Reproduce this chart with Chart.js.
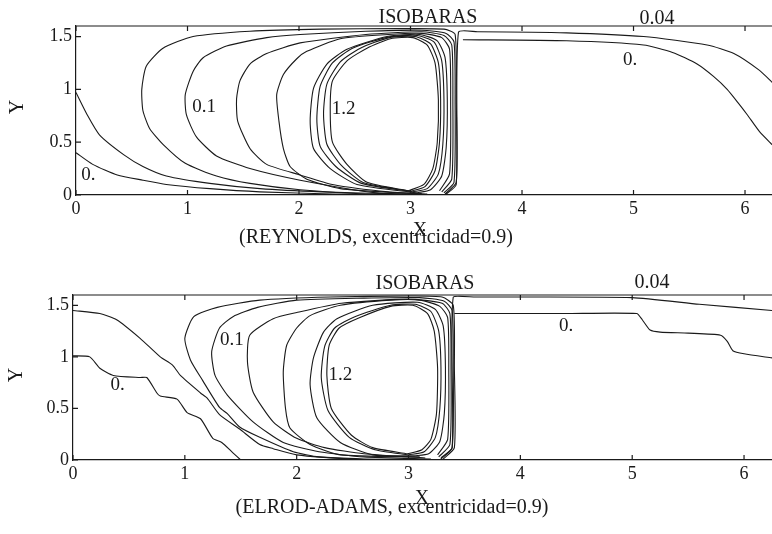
<!DOCTYPE html>
<html>
<head>
<meta charset="utf-8">
<script src="https://cdn.jsdelivr.net/npm/chart.js@4.4.0/dist/chart.umd.min.js"></script>
<style>
  body { margin: 0; background: #fff; overflow: hidden; }
  .box { position: absolute; left: 0; width: 772px; height: 267px; }
</style>
</head>
<body>
<div class="box" style="top:0"><canvas id="reynoldsChart"></canvas></div>
<div class="box" style="top:267px"><canvas id="elrodChart"></canvas></div>
<script>
// axis ticks
const xTicks = [0, 1, 2, 3, 4, 5, 6];
const yTicks = [0, 0.5, 1, 1.5];

// REYNOLDS isobars, [x, y] points
const reyZeroLow = [[0,0.40],[0.15,0.29],[0.37,0.19],[0.6,0.14],[0.81,0.10],[1.2,0.06],[1.65,0.03],[2.3,0.01],[3.0,0.0]];
const reyZeroHigh = [[0,0.97],[0.1,0.76],[0.21,0.57],[0.43,0.38],[0.6,0.27],[0.81,0.18],[1.2,0.11],[1.65,0.06],[2.2,0.03],[2.9,0.01]];
const reyLoop1 = [[3.22,0.0],[2.6,0.01],[2.01,0.05],[1.56,0.11],[1.26,0.18],[0.98,0.30],[0.78,0.48],[0.66,0.63],[0.60,0.80],[0.59,1.0],[0.63,1.22],[0.78,1.39],[1.05,1.50],[1.56,1.55],[2.2,1.57],[2.9,1.575],[3.3,1.57],[3.4,1.52],[3.41,0.9],[3.41,0.12],[3.31,0.01]];
const reyLoop2 = [[3.2,0.005],[2.7,0.02],[2.01,0.14],[1.56,0.25],[1.26,0.37],[1.08,0.55],[0.99,0.76],[0.98,0.95],[1.05,1.17],[1.14,1.30],[1.35,1.41],[1.71,1.49],[2.01,1.52],[2.6,1.55],[3.1,1.56],[3.32,1.53],[3.39,1.45],[3.40,0.9],[3.39,0.12],[3.3,0.02]];
const reyLoop3 = [[3.15,0.01],[2.8,0.03],[2.3,0.1],[2.01,0.19],[1.71,0.29],[1.56,0.44],[1.45,0.70],[1.44,0.91],[1.47,1.08],[1.56,1.24],[1.71,1.34],[2.01,1.44],[2.6,1.52],[3.1,1.545],[3.3,1.51],[3.37,1.42],[3.38,0.9],[3.37,0.15],[3.28,0.03]];
const reyLoop4 = [[3.1,0.015],[2.9,0.02],[2.37,0.06],[2.07,0.15],[1.92,0.27],[1.86,0.44],[1.82,0.70],[1.80,0.95],[1.86,1.14],[1.98,1.29],[2.07,1.36],[2.37,1.48],[2.8,1.52],[3.1,1.53],[3.28,1.49],[3.35,1.38],[3.36,0.9],[3.35,0.2],[3.26,0.04]];
const reyLoop5 = [[3.05,0.02],[2.52,0.10],[2.28,0.25],[2.13,0.44],[2.10,0.70],[2.13,1.01],[2.25,1.24],[2.43,1.38],[2.79,1.50],[3.08,1.52],[3.24,1.46],[3.31,1.30],[3.33,0.9],[3.32,0.45],[3.28,0.18],[3.18,0.05],[3.05,0.02]];
const reyLoop6 = [[3.02,0.03],[2.56,0.11],[2.33,0.27],[2.19,0.46],[2.16,0.72],[2.19,1.03],[2.30,1.25],[2.48,1.39],[2.80,1.495],[3.06,1.51],[3.21,1.45],[3.28,1.27],[3.30,0.9],[3.29,0.48],[3.25,0.2],[3.15,0.06],[3.02,0.03]];
const reyLoop7 = [[3.0,0.035],[2.58,0.115],[2.38,0.28],[2.25,0.48],[2.22,0.77],[2.25,1.05],[2.37,1.26],[2.55,1.39],[2.81,1.49],[3.04,1.50],[3.18,1.43],[3.25,1.25],[3.27,0.9],[3.26,0.5],[3.22,0.23],[3.13,0.08],[3.0,0.035]];
const reyLoop8 = [[2.98,0.04],[2.61,0.12],[2.43,0.29],[2.30,0.50],[2.28,0.82],[2.30,1.08],[2.43,1.27],[2.61,1.39],[2.82,1.48],[3.02,1.49],[3.15,1.42],[3.22,1.25],[3.25,0.9],[3.24,0.5],[3.2,0.25],[3.12,0.1],[2.98,0.04]];
const reyWall = [[3.31,0.0],[3.41,0.1],[3.43,1.54],[3.6,1.545],[4.4,1.535],[5.09,1.50],[5.66,1.42],[5.9,1.34],[6.13,1.18],[6.25,1.06]];
const reyZeroRight = [[3.47,1.47],[4.4,1.46],[5.09,1.42],[5.35,1.35],[5.57,1.24],[5.72,1.12],[5.84,1.0],[5.94,0.87],[6.02,0.76],[6.13,0.6],[6.25,0.47]];
const reyLabels = [[0.11,0.19,'0.'],[1.15,0.83,'0.1'],[2.4,0.81,'1.2'],[4.97,1.28,'0.']];

// ELROD-ADAMS isobars
const elaZeroLow = [[0,1.01],[0.15,1.0],[0.24,0.89],[0.36,0.82],[0.6,0.80],[0.66,0.80],[0.75,0.65],[0.78,0.62],[0.93,0.59],[1.02,0.46],[1.14,0.40],[1.25,0.21],[1.33,0.17],[1.43,0.07],[1.5,0.0]];
const elaZeroHigh = [[0,1.45],[0.24,1.42],[0.39,1.36],[0.6,1.18],[0.78,1.0],[0.89,0.92],[0.96,0.82],[1.14,0.65],[1.2,0.6],[1.31,0.44],[1.49,0.3],[1.67,0.15],[1.79,0.11],[2.0,0.05],[2.5,0.01],[3.0,0.0]];
const elaLoop1 = [[3.25,0.0],[2.6,0.01],[2.2,0.03],[1.97,0.08],[1.67,0.22],[1.49,0.32],[1.38,0.45],[1.31,0.51],[1.16,0.77],[1.05,0.97],[1.0,1.18],[1.08,1.39],[1.29,1.48],[1.67,1.55],[2.3,1.58],[3.0,1.59],[3.3,1.58],[3.4,1.5],[3.41,0.9],[3.41,0.12],[3.31,0.01]];
const elaLoop2 = [[3.2,0.01],[2.6,0.03],[2.2,0.08],[1.88,0.17],[1.61,0.37],[1.38,0.63],[1.27,0.82],[1.24,1.05],[1.31,1.28],[1.43,1.39],[1.65,1.48],[2.0,1.55],[2.6,1.57],[3.1,1.575],[3.32,1.54],[3.39,1.45],[3.40,0.9],[3.39,0.12],[3.29,0.02]];
const elaLoop3 = [[3.15,0.02],[2.6,0.06],[2.25,0.12],[2.0,0.21],[1.79,0.37],[1.61,0.66],[1.56,0.95],[1.58,1.21],[1.79,1.37],[2.0,1.43],[2.4,1.52],[3.0,1.56],[3.3,1.52],[3.37,1.42],[3.38,0.9],[3.37,0.15],[3.27,0.03]];
const elaLoop4 = [[3.1,0.03],[2.39,0.05],[2.12,0.15],[1.94,0.31],[1.90,0.5],[1.88,0.85],[1.91,1.11],[2.0,1.28],[2.12,1.40],[2.39,1.50],[2.84,1.55],[3.1,1.55],[3.28,1.49],[3.35,1.38],[3.36,0.9],[3.35,0.2],[3.26,0.05]];
const elaLoop5 = [[3.05,0.04],[2.68,0.05],[2.39,0.17],[2.18,0.41],[2.12,0.73],[2.15,0.99],[2.24,1.24],[2.36,1.37],[2.68,1.50],[3.08,1.53],[3.24,1.46],[3.31,1.30],[3.33,0.9],[3.32,0.45],[3.28,0.18],[3.18,0.06],[3.05,0.04]];
const elaLoop6 = [[3.0,0.05],[2.7,0.1],[2.47,0.22],[2.28,0.48],[2.22,0.8],[2.25,1.1],[2.34,1.28],[2.52,1.39],[2.84,1.50],[3.06,1.51],[3.2,1.44],[3.27,1.25],[3.29,0.9],[3.28,0.5],[3.24,0.22],[3.14,0.08],[3.0,0.05]];
const elaLoop7 = [[2.99,0.06],[2.68,0.12],[2.49,0.24],[2.31,0.5],[2.27,0.82],[2.29,1.11],[2.38,1.28],[2.56,1.38],[2.84,1.49],[3.04,1.50],[3.17,1.42],[3.23,1.25],[3.26,0.89],[3.25,0.45],[3.2,0.2],[3.12,0.1],[2.99,0.06]];
const elaWall = [[3.28,0.0],[3.39,0.12],[3.40,1.58],[3.6,1.58],[5.0,1.575],[5.6,1.51],[6.25,1.45]];
const elaZeroRight = [[3.41,1.42],[4.4,1.42],[5.04,1.42],[5.09,1.36],[5.16,1.26],[5.25,1.24],[5.5,1.23],[5.79,1.21],[5.85,1.15],[5.9,1.06],[6.0,1.03],[6.25,0.99]];
const elaLabels = [[0.40,0.73,'0.'],[1.42,1.16,'0.1'],[2.39,0.82,'1.2'],[4.41,1.3,'0.']];

const ink = '#1a1a1a';
const serif = '"Liberation Serif", "DejaVu Serif", serif';

// frame top, inner tick marks, contour labels and captions
const frameText = {
    id: 'frameText',
    afterDraw(chart, args, o) {
        const ctx = chart.ctx;
        const a = chart.chartArea;
        const xs = chart.scales.x, ys = chart.scales.y;
        ctx.save();
        ctx.strokeStyle = ink;
        ctx.lineWidth = 1.2;
        ctx.beginPath();
        ctx.moveTo(a.left, a.top);
        ctx.lineTo(a.right, a.top);
        xTicks.forEach(v => {
            const px = xs.getPixelForValue(v);
            ctx.moveTo(px, a.bottom); ctx.lineTo(px, a.bottom - 5);
            ctx.moveTo(px, a.top); ctx.lineTo(px, a.top + 5);
        });
        yTicks.forEach(v => {
            const py = ys.getPixelForValue(v);
            ctx.moveTo(a.left, py); ctx.lineTo(a.left + 5, py);
        });
        ctx.stroke();

        ctx.fillStyle = ink;
        ctx.textAlign = 'center';
        ctx.textBaseline = 'middle';
        ctx.font = '19px ' + serif;
        o.labels.forEach(l => ctx.fillText(l[2], xs.getPixelForValue(l[0]), ys.getPixelForValue(l[1])));

        ctx.font = '20px ' + serif;
        ctx.fillText('ISOBARAS', o.head[0], o.head[1]);
        ctx.fillText('0.04', o.level[0], o.level[1]);
        ctx.fillText(o.caption, o.capPos[0], o.capPos[1]);
        ctx.fillText('X', o.xPos[0], o.xPos[1]);
        ctx.translate(o.yPos[0], o.yPos[1]);
        ctx.rotate(-Math.PI / 2);
        ctx.fillText('Y', 0, 0);
        ctx.restore();
    }
};

function makeChart(id, lines, o) {
    const datasets = lines.map(pts => ({
        data: pts.map(p => ({x: p[0], y: p[1]})),
        showLine: true,
        borderColor: ink,
        borderWidth: 1.1,
        pointRadius: 0,
        tension: 0.2,
        fill: false
    }));

    return new Chart(document.getElementById(id), {
        type: 'scatter',
        data: { datasets },
        plugins: [frameText],
        options: {
            responsive: true,
            maintainAspectRatio: false,
            animation: false,
            layout: { padding: { top: o.padTop, right: 0, left: 0, bottom: 0 } },
            plugins: {
                legend: { display: false },
                tooltip: { enabled: false },
                frameText: o
            },
            scales: {
                x: {
                    type: 'linear',
                    min: 0,
                    max: o.xMax,
                    afterBuildTicks: s => { s.ticks = xTicks.map(v => ({value: v})); },
                    afterFit: s => { s.height = o.xAxisH; },
                    ticks: { color: ink, font: { family: serif, size: 18 }, padding: 3, maxRotation: 0, autoSkip: false, callback: v => String(v) },
                    grid: { display: false, drawTicks: false },
                    border: { display: true, color: ink, width: 1.2 }
                },
                y: {
                    type: 'linear',
                    min: 0,
                    max: 1.6,
                    afterBuildTicks: s => { s.ticks = yTicks.map(v => ({value: v})); },
                    afterFit: s => { s.width = o.yAxisW; },
                    ticks: { color: ink, font: { family: serif, size: 18 }, padding: 4, callback: v => String(v) },
                    grid: { display: false, drawTicks: false },
                    border: { display: true, color: ink, width: 1.2 }
                }
            }
        }
    });
}

makeChart('reynoldsChart',
    [reyZeroLow, reyZeroHigh, reyLoop1, reyLoop2, reyLoop3, reyLoop4, reyLoop5, reyLoop6, reyLoop7, reyLoop8, reyWall, reyZeroRight],
    { padTop: 26, yAxisW: 76, xAxisH: 72, xMax: 6.242, labels: reyLabels,
      head: [428, 18], level: [657, 19], caption: '(REYNOLDS, excentricidad=0.9)',
      capPos: [376, 238], xPos: [420, 231], yPos: [18, 107] });

makeChart('elrodChart',
    [elaZeroLow, elaZeroHigh, elaLoop1, elaLoop2, elaLoop3, elaLoop4, elaLoop5, elaLoop6, elaLoop7, elaWall, elaZeroRight],
    { padTop: 28, yAxisW: 73, xAxisH: 74, xMax: 6.25, labels: elaLabels,
      head: [425, 17], level: [652, 16], caption: '(ELROD-ADAMS, excentricidad=0.9)',
      capPos: [392, 241], xPos: [422, 232], yPos: [17, 108] });
</script>
</body>
</html>
